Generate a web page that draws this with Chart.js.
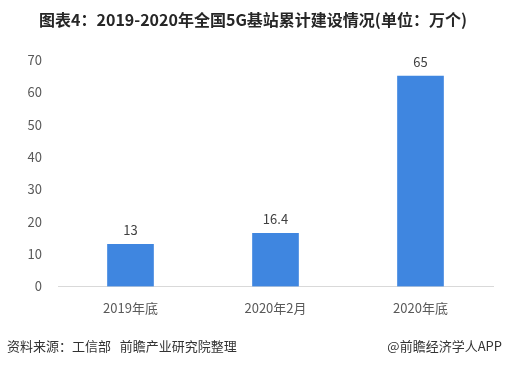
<!DOCTYPE html>
<html>
<head>
<meta charset="utf-8">
<script src="https://cdn.jsdelivr.net/npm/chart.js@4/dist/chart.umd.min.js"></script>
<style>
  html, body { margin: 0; padding: 0; background: #fff; }
  #wrap { position: relative; width: 506px; height: 365px; }
</style>
</head>
<body>
<div id="wrap"><canvas id="grafico" width="506" height="365"></canvas></div>
<script>
// datos
const categorias = ["2019年底", "2020年2月", "2020年底"];
const valores = [13, 16.4, 65];
const ticksY = [0, 10, 20, 30, 40, 50, 60, 70];

const titulo = "图表4：2019-2020年全国5G基站累计建设情况(单位：万个)";
const fuente = "资料来源：工信部   前瞻产业研究院整理";
const marca = "@前瞻经济学人APP";

const fam = "'Noto Sans CJK SC', 'Noto Sans', sans-serif";

// textos extra: título, etiquetas y pie
const textos = {
  id: "textos",
  afterDraw(chart) {
    const ctx = chart.ctx;
    ctx.save();
    ctx.fillStyle = "#262626";
    ctx.font = "bold 16px " + fam;
    ctx.textAlign = "center";
    ctx.textBaseline = "middle";
    ctx.fillText(titulo, 253, 20);

    ctx.font = "13px " + fam;
    ctx.fillStyle = "#404040";
    ctx.textBaseline = "alphabetic";
    chart.getDatasetMeta(0).data.forEach((bar, i) => {
      ctx.fillText(String(valores[i]), bar.x, bar.y - 9);
    });

    ctx.fillStyle = "#333";
    ctx.textAlign = "left";
    ctx.textBaseline = "middle";
    ctx.fillText(fuente, 7, 346);
    ctx.textAlign = "right";
    ctx.fillText(marca, 502, 346);
    ctx.restore();
  }
};

const ctx = document.getElementById("grafico").getContext("2d");
new Chart(ctx, {
  type: "bar",
  data: {
    labels: categorias,
    datasets: [{
      data: valores,
      backgroundColor: "#3f86e0",
      barThickness: 46
    }]
  },
  options: {
    responsive: false,
    animation: false,
    layout: { padding: { top: 60, right: 13, bottom: 43, left: 8 } },
    plugins: { legend: { display: false }, tooltip: { enabled: false } },
    scales: {
      x: {
        grid: { display: false },
        border: { display: true, color: "#d9d9d9" },
        ticks: { color: "#595959", font: { size: 13, family: fam }, padding: 6 }
      },
      y: {
        min: 0,
        max: 70,
        afterFit(scale) { scale.width = 50; },
        afterBuildTicks(scale) { scale.ticks = ticksY.map(v => ({ value: v })); },
        grid: { display: false },
        border: { display: false },
        ticks: { color: "#595959", font: { size: 13, family: fam }, padding: 8 }
      }
    }
  },
  plugins: [textos]
});
</script>
</body>
</html>
